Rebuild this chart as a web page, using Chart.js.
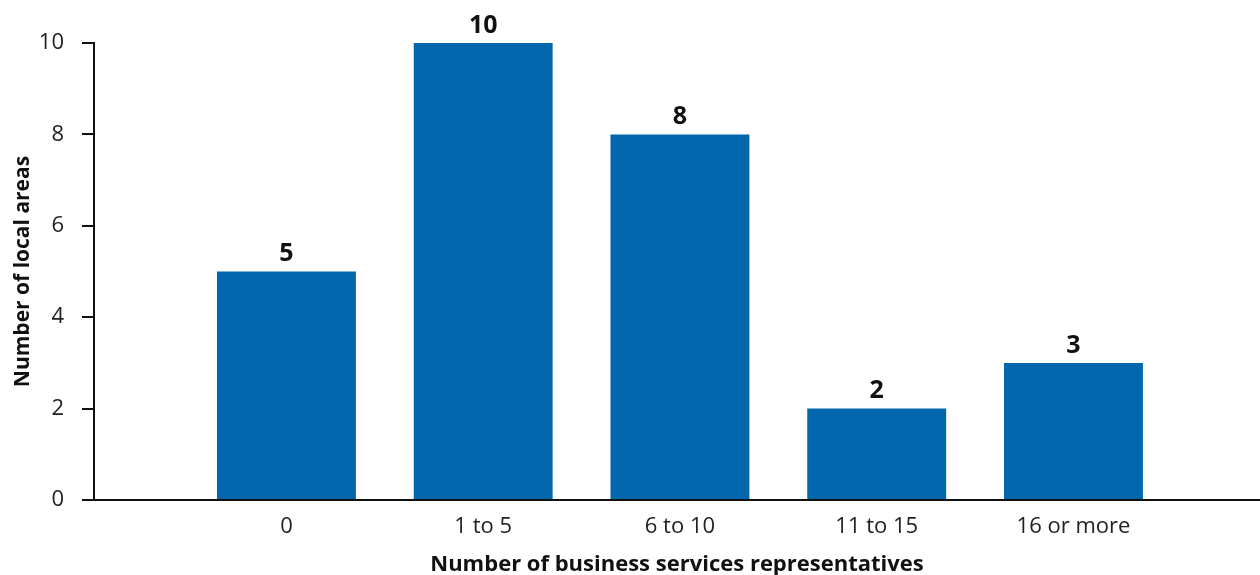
<!DOCTYPE html>
<html>
<head>
<meta charset="utf-8">
<script src="https://cdn.jsdelivr.net/npm/chart.js@4/dist/chart.umd.min.js"></script>
<style>
  html, body { margin: 0; padding: 0; background: #fff; overflow: hidden; }
  #wrap { width: 1260px; height: 575px; }
</style>
</head>
<body>
<div id="wrap"><canvas id="myChart"></canvas></div>
<script>
// local areas by number of business services representatives
var categories = ['0', '1 to 5', '6 to 10', '11 to 15', '16 or more'];
var areaCounts = [5, 10, 8, 2, 3];
var yTicks = [0, 2, 4, 6, 8, 10];

var blue = '#0367ad';
var fontFamily = "'Open Sans', 'Lato', sans-serif";

// values over each bar
var barValues = {
  id: 'barValues',
  afterDatasetsDraw: function(chart) {
    var c = chart.ctx;
    var meta = chart.getDatasetMeta(0);
    c.save();
    c.font = 'bold 25px ' + fontFamily;
    c.fillStyle = '#111';
    c.textAlign = 'center';
    c.textBaseline = 'bottom';
    meta.data.forEach(function(bar, i) {
      c.fillText(areaCounts[i], bar.x, bar.y - 5);
    });
    c.restore();
  }
};

var ctx = document.getElementById('myChart').getContext('2d');
var myBarChart = new Chart(ctx, {
  type: 'bar',
  data: {
    datasets: [{
      label: 'Number of local areas',
      backgroundColor: blue,
      data: areaCounts.map(function(v, i) { return { x: i + 1, y: v }; }),
      barPercentage: 0.706,
      categoryPercentage: 1.0
    }]
  },
  options: {
    responsive: true,
    maintainAspectRatio: false,
    animation: false,
    layout: { padding: { top: 43, right: 0, left: 0, bottom: 0 } },
    plugins: { legend: { display: false }, tooltip: { enabled: false } },
    scales: {
      x: {
        type: 'linear',
        offset: false,
        min: 0.022,
        max: 5.948,
        afterBuildTicks: function(scale) {
          scale.ticks = categories.map(function(c, i) { return { value: i + 1 }; });
        },
        afterFit: function(scale) { scale.height = 75; },
        grid: { display: false, drawTicks: false, offset: false },
        border: { display: true, color: '#111', width: 2 },
        ticks: {
          autoSkip: false,
          maxRotation: 0,
          padding: 14,
          color: '#222',
          font: { family: fontFamily, size: 22 },
          callback: function(v) { return categories[v - 1] || ''; }
        },
        title: {
          display: true,
          text: 'Number of business services representatives',
          color: '#111',
          font: { family: fontFamily, size: 22, weight: 'bold' },
          padding: { top: 0, bottom: -3 }
        }
      },
      y: {
        min: 0,
        max: 10,
        afterBuildTicks: function(scale) {
          scale.ticks = yTicks.map(function(v) { return { value: v }; });
        },
        afterFit: function(scale) { scale.width = 94; },
        grid: { display: true, drawOnChartArea: false, drawTicks: true, tickLength: 12, color: '#111', lineWidth: 2 },
        border: { display: true, color: '#111', width: 2 },
        ticks: {
          padding: 18,
          color: '#222',
          font: { family: fontFamily, size: 22 }
        },
        title: {
          display: true,
          text: 'Number of local areas',
          color: '#111',
          font: { family: fontFamily, size: 21, weight: 'bold' },
          padding: { top: 10, bottom: 0 }
        }
      }
    }
  },
  plugins: [barValues]
});
</script>
</body>
</html>
